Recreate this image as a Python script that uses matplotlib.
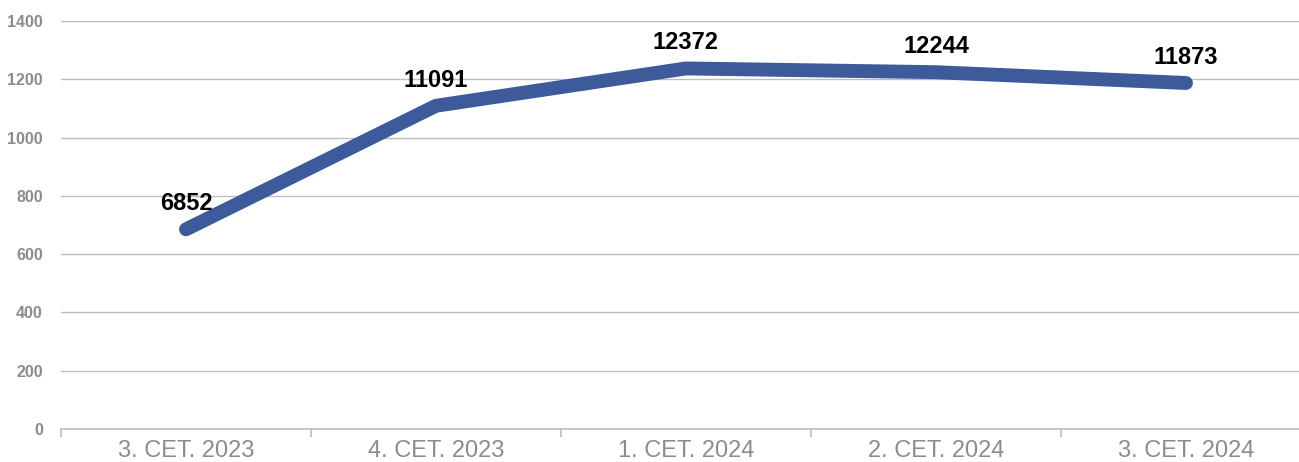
import matplotlib
matplotlib.use("Agg")
import matplotlib.pyplot as plt
import numpy as np

categories = ["3. СЕТ. 2023", "4. СЕТ. 2023", "1. СЕТ. 2024", "2. СЕТ. 2024", "3. СЕТ. 2024"]
values = [6852, 11091, 12372, 12244, 11873]
plot_values = [v / 10 for v in values]
yticks = [0, 200, 400, 600, 800, 1000, 1200, 1400]

plt.rcParams['font.family'] = ['Liberation Sans', 'DejaVu Sans']

fig = plt.figure(figsize=(12.99, 4.62), dpi=100)
ax = fig.add_axes([61/1299, 33/462, 1 - 61/1299, 408/462])

x = np.arange(len(categories))
ax.plot(x, plot_values, color='#3d5a9b', lw=10, solid_capstyle='round', solid_joinstyle='round', zorder=3)

for xi, yv, lab in zip(x, plot_values, values):
    ax.annotate(str(lab), (xi, yv), xytext=(0, 18.5), textcoords='offset points',
                ha='center', va='center', fontsize=17, fontweight='bold', color='black', zorder=4)

ax.set_yticks(yticks)
ax.yaxis.grid(True, color='#bdbdbd', lw=1)
ax.set_axisbelow(True)
for s in ['left', 'right', 'top']:
    ax.spines[s].set_visible(False)
ax.spines['bottom'].set_color('#bdbdbd')
ax.spines['bottom'].set_linewidth(1.2)
ax.tick_params(axis='y', length=0, labelsize=11.5, labelcolor='#8c8c8c', pad=13)
for t in ax.get_yticklabels():
    t.set_fontweight('bold')

ax.set_xticks(x)
ax.set_xticklabels(categories, fontsize=17, color='#8c8c8c')
ax.set_xticks(np.arange(-0.5, 5, 1), minor=True)
ax.tick_params(axis='x', which='major', length=0, pad=8)
ax.tick_params(axis='x', which='minor', length=6, color='#bdbdbd', width=1.2)

ax.set_ylim(0, 1400)
ax.set_xlim(-0.5, -0.5 + 5 * (1299 - 61) / 1250)

fig.savefig('out.png', dpi=100)
